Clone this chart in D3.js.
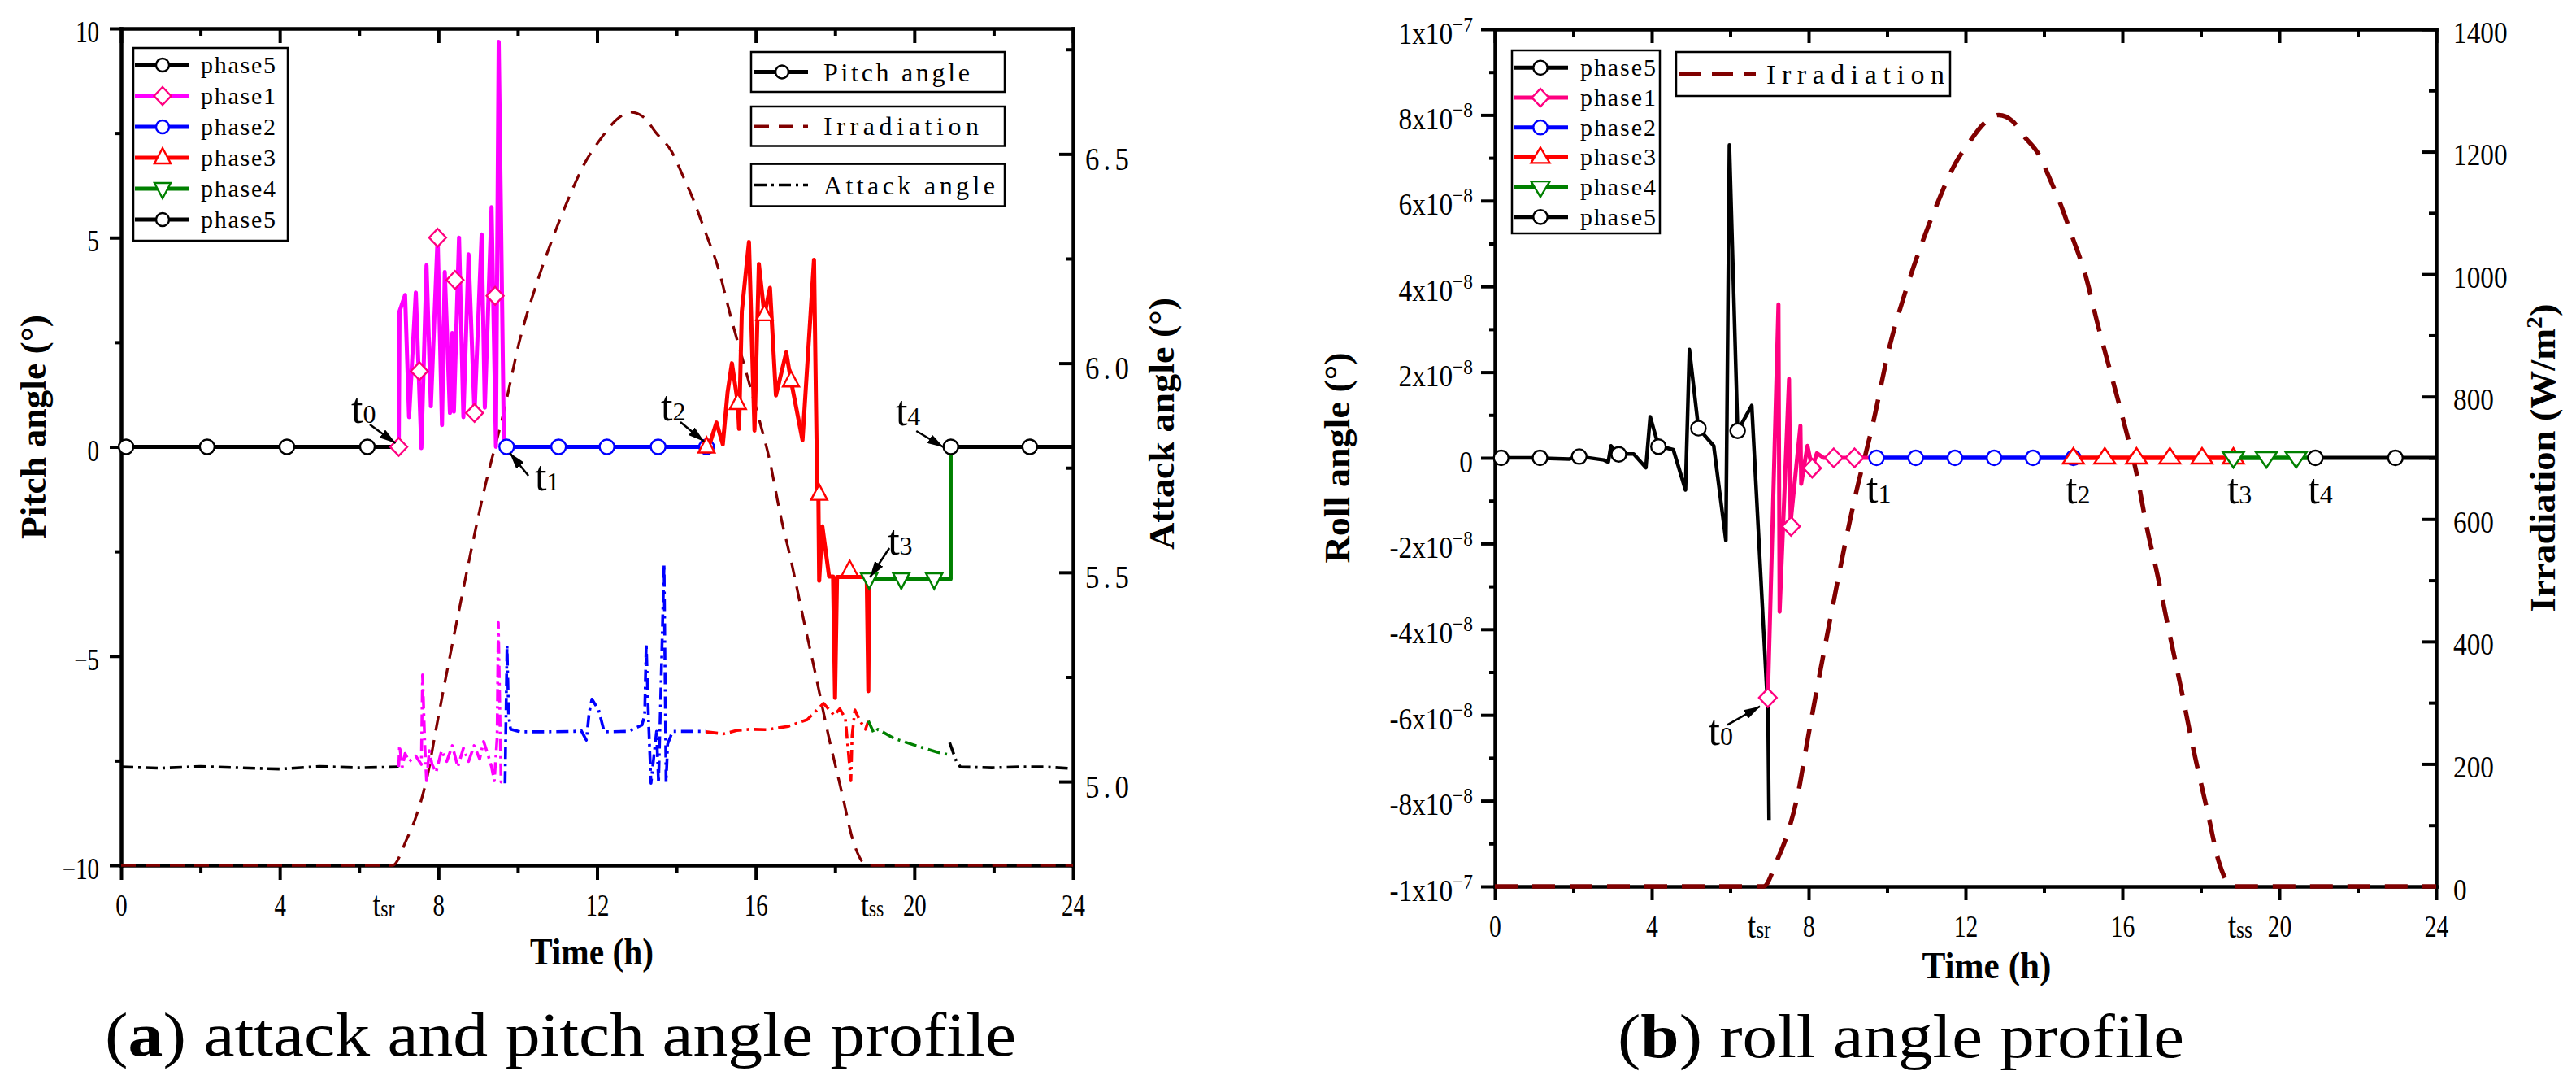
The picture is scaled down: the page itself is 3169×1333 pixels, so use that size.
<!DOCTYPE html>
<html><head><meta charset="utf-8">
<script src="https://cdn.jsdelivr.net/npm/d3@7"></script>
<style>html,body{margin:0;padding:0;background:#fff;}svg{display:block;}</style>
</head><body>
<svg id="chart" width="3169" height="1333"></svg>
<script>
// ===================== DATA =====================
const hourTicks = [0,4,8,12,16,20,24];
const hourMinorTicks = [2,6,10,14,18,22];
const pitchTicks = [-10,-5,0,5,10];
const pitchMinorTicks = [-7.5,-2.5,2.5,7.5];
const attackTicks = [5.0,5.5,6.0,6.5];
const attackMinorTicks = [5.25,5.75,6.25,6.75];
const rollTicks = [-10,-8,-6,-4,-2,0,2,4,6,8,10];      // units of 1e-8 deg
const rollMinorTicks = [-9,-7,-5,-3,-1,1,3,5,7,9];
const irrTicks = [0,200,400,600,800,1000,1200,1400];
const irrMinorTicks = [100,300,500,700,900,1100,1300];
const sunTimesA = [6.62, 18.94];   // t_sr, t_ss label positions (h), panel a
const sunTimesB = [6.74, 19.0];    // panel b
const sunSubs = ["sr","ss"];
const phaseLabels = ["phase5","phase1","phase2","phase3","phase4","phase5"];
const curveLabelsA = ["Pitch angle","Irradiation","Attack angle"];
const curveLabelB = "Irradiation";

// Solar irradiation (h, W/m^2)
const irradiation = [[0,0],[6.85,0],[7.19,42],[7.47,88],[7.74,155],[7.93,224],[8.5,420],[9.17,632],[9.65,759],[10.06,881],[10.47,972],[10.88,1049],[11.29,1117],[11.70,1176],[12.11,1217],[12.5,1248],[12.85,1260],[13.2,1250],[13.48,1226],[13.88,1194],[14.16,1154],[14.43,1113],[14.71,1063],[15.05,1000],[15.39,913],[15.73,832],[16.07,750],[16.35,678],[16.62,587],[16.89,510],[17.2,413],[17.5,322],[17.81,224],[18.18,119],[18.45,42],[18.82,0],[24,0]];

// Pitch angle (h, deg)
const pitch5a = [[0,0],[7.0,0]];
const pitch5aMarks = [[0.125,0],[2.17,0],[4.18,0],[6.21,0]];
const pitch1 = [[7.00,0],[7.02,3.24],[7.16,3.63],[7.26,0.71],[7.43,3.69],[7.57,-0.03],[7.70,4.34],[7.81,0.97],[7.98,5.0],[8.09,0.52],[8.16,4.18],[8.29,0.81],[8.35,2.72],[8.39,0.84],[8.52,5.0],[8.63,0.71],[8.76,4.6],[8.91,0.81],[9.09,5.08],[9.17,0.94],[9.34,5.73],[9.45,0],[9.52,9.68],[9.65,0.19],[9.72,0]];
const pitch1Marks = [[7.0,0],[7.52,1.81],[7.98,5.0],[8.42,3.99],[8.91,0.81],[9.43,3.61]];
const pitch2 = [[9.72,0],[14.76,0]];
const pitch2Marks = [[9.72,0],[11.03,0],[12.25,0],[13.54,0],[14.76,0]];
const pitch3 = [[14.76,0],[14.85,0.1],[15.01,0.58],[15.17,0.06],[15.29,1.3],[15.40,2.0],[15.55,1.04],[15.58,0.43],[15.65,3.24],[15.83,4.9],[15.97,0.39],[16.08,4.37],[16.22,3.16],[16.36,3.8],[16.51,1.23],[16.77,2.26],[16.89,1.58],[17.18,0.16],[17.47,4.47],[17.55,-0.97],[17.58,-1.13],[17.6,-3.2],[17.68,-1.9],[17.85,-3.1],[17.95,-3.1],[18.0,-6.0],[18.05,-3.11],[18.8,-3.11],[18.84,-5.84],[18.86,-3.16]];
const pitch3Marks = [[14.76,0],[15.55,1.04],[16.22,3.16],[16.89,1.58],[17.6,-1.13],[18.37,-2.95]];
const pitch4 = [[18.86,-3.16],[20.92,-3.16],[20.92,0]];
const pitch4Marks = [[18.86,-3.16],[19.67,-3.16],[20.5,-3.16]];
const pitch5b = [[20.92,0],[24,0]];
const pitch5bMarks = [[20.92,0],[22.91,0]];

// Attack angle (h, deg)
const attack5a = [[0,5.035],[1.0,5.032],[2.0,5.036],[3.0,5.033],[4.0,5.030],[5.0,5.036],[6.0,5.033],[7.0,5.035]];
const attack1 = [[7.0,5.035],[7.02,5.086],[7.09,5.035],[7.16,5.067],[7.26,5.048],[7.43,5.061],[7.57,5.041],[7.60,5.255],[7.66,5.080],[7.70,5.002],[7.77,5.074],[7.84,5.041],[7.94,5.022],[8.08,5.074],[8.21,5.048],[8.35,5.086],[8.49,5.035],[8.63,5.080],[8.76,5.048],[8.90,5.086],[9.04,5.054],[9.14,5.096],[9.24,5.067],[9.34,5.035],[9.41,5.002],[9.48,5.106],[9.51,5.38],[9.58,4.999],[9.68,5.0]];
const attack2 = [[9.68,4.996],[9.73,5.326],[9.77,5.158],[9.82,5.125],[10.06,5.119],[10.74,5.119],[11.43,5.120],[11.60,5.122],[11.73,5.099],[11.80,5.164],[11.87,5.197],[12.04,5.171],[12.18,5.119],[12.79,5.120],[13.13,5.135],[13.20,5.158],[13.24,5.33],[13.30,5.14],[13.36,4.996],[13.50,5.12],[13.55,4.996],[13.69,5.52],[13.74,4.998],[13.78,5.09],[13.85,5.107],[13.9,5.12],[14.74,5.12]];
const attack3 = [[14.74,5.119],[15.18,5.114],[15.52,5.122],[15.86,5.125],[16.28,5.124],[16.82,5.132],[17.30,5.148],[17.71,5.187],[17.98,5.158],[18.12,5.174],[18.26,5.151],[18.40,5.002],[18.43,5.109],[18.50,5.171],[18.63,5.145],[18.77,5.125],[18.84,5.145]];
const attack4 = [[18.84,5.145],[18.98,5.116],[19.08,5.125],[19.49,5.103],[20.04,5.086],[20.58,5.070],[20.89,5.064]];
const attack5b = [[20.89,5.093],[21.06,5.048],[21.16,5.035],[21.95,5.033],[22.63,5.035],[23.31,5.035],[24.0,5.031]];

// Roll angle (h, units of 1e-8 deg)
const roll5a = [[0,0],[0.92,0],[1.89,-0.03],[2.09,0.04],[2.78,-0.05],[2.89,-0.1],[2.96,0.28],[3.16,0.09],[3.54,0.09],[3.85,-0.23],[3.96,0.96],[4.17,0.28],[4.55,0.19],[4.86,-0.75],[4.96,2.53],[5.19,0.69],[5.58,0.28],[5.89,-1.93],[5.98,7.3],[6.19,0.63],[6.55,1.22],[6.93,-5.38],[6.96,-5.6],[6.99,-8.45]];
const roll5aMarks = [[0.16,0],[1.15,0],[2.15,0.03],[3.16,0.08],[4.17,0.26],[5.19,0.69],[6.19,0.63]];
const roll1 = [[6.96,-5.6],[7.23,3.58],[7.26,-3.59],[7.50,1.84],[7.54,-1.51],[7.79,0.75],[7.81,-0.61],[7.97,0.28],[8.09,-0.24],[8.21,0.11],[8.38,0],[9.73,0]];
const roll1Marks = [[6.96,-5.6],[7.55,-1.6],[8.09,-0.24],[8.64,0],[9.17,0]];
const roll2 = [[9.73,0],[14.75,0]];
const roll2Marks = [[9.73,0],[10.73,0],[11.73,0],[12.73,0],[13.72,0],[14.75,0]];
const roll3 = [[14.75,0],[18.83,0]];
const roll3Marks = [[14.75,0],[15.55,0],[16.36,0],[17.21,0],[18.03,0],[18.83,0]];
const roll4 = [[18.83,0],[20.92,0]];
const roll4Marks = [[18.83,0],[19.67,0],[20.43,0]];
const roll5b = [[20.92,0],[24,0]];
const roll5bMarks = [[20.92,0],[22.96,0]];

// Annotation labels t0..t4 : [label pos], [arrow from], [arrow to] in data units
const notesA = [
  {sub:"0", at:[5.80,0.573], from:[6.27,0.535], to:[6.92,0.087]},
  {sub:"1", at:[10.43,-1.04], from:[10.27,-0.69], to:[9.80,-0.146]},
  {sub:"2", at:[13.61,0.632], from:[14.10,0.593], to:[14.70,0.126]},
  {sub:"3", at:[19.33,-2.575], from:[19.37,-2.42], to:[18.88,-3.12]},
  {sub:"4", at:[19.53,0.515], from:[20.05,0.38], to:[20.74,-0.01]}
];
const notesB = [
  {sub:"0", at:[5.44,-6.70], from:[5.93,-6.23], to:[6.76,-5.80]},
  {sub:"1", at:[9.47,-1.05]},
  {sub:"2", at:[14.55,-1.07]},
  {sub:"3", at:[18.67,-1.07]},
  {sub:"4", at:[20.73,-1.07]}
];

// ===================== STYLE =====================
const SERIF = "'Liberation Serif','Times New Roman',serif";
const C = {black:"#000000", mag:"#FF00FF", pink:"#FF0080", blue:"#0000FF", red:"#FF0000", green:"#008000", irr:"#800000"};
const DASHDOT = "15,6,3,6";

const svg = d3.select("#chart");
const defs = svg.append("defs");
defs.append("marker").attr("id","arrow").attr("viewBox","0 0 20 12").attr("refX",20).attr("refY",6)
  .attr("markerWidth",20).attr("markerHeight",12).attr("markerUnits","userSpaceOnUse").attr("orient","auto")
  .append("path").attr("d","M0,0 L20,6 L0,12 Z").attr("fill","#000");

// ===================== HELPERS =====================
function txt(g, x, y, s, o={}) {
  let tr = `translate(${x},${y})`;
  if (o.rot) tr += ` rotate(${o.rot})`;
  if (o.sx) tr += ` scale(${o.sx},1)`;
  const t = g.append("text").attr("transform", tr)
    .attr("font-family", o.family || SERIF).attr("font-size", o.size || 37)
    .attr("font-weight", o.weight || "normal").attr("text-anchor", o.anchor || "start").attr("fill", "#000");
  if (o.len) t.attr("textLength", o.len).attr("lengthAdjust", o.adjust || "spacingAndGlyphs");
  if (s !== null) t.text(s);
  return t;
}
function marker(g, cx, cy, shape, color, sz) {
  if (shape === "circle") {
    g.append("circle").attr("cx",cx).attr("cy",cy).attr("r",sz.r).attr("fill","#fff").attr("stroke",color).attr("stroke-width",2.4);
    return;
  }
  let d;
  if (shape === "diamond") d = `M${cx},${cy-sz.d}L${cx+sz.d*0.95},${cy}L${cx},${cy+sz.d}L${cx-sz.d*0.95},${cy}Z`;
  else if (shape === "tri") d = `M${cx},${cy-12}L${cx+sz.t},${cy+7}L${cx-sz.t},${cy+7}Z`;
  else d = `M${cx},${cy+12}L${cx+sz.t},${cy-7}L${cx-sz.t},${cy-7}Z`;
  g.append("path").attr("d",d).attr("fill","#fff").attr("stroke",color).attr("stroke-width",2.4).attr("stroke-linejoin","miter");
}
function series(g, data, x, y, color, width, dash, curve) {
  const ln = d3.line().x(d=>x(d[0])).y(d=>y(d[1]));
  if (curve) ln.curve(curve);
  g.append("path").datum(data).attr("d", ln).attr("fill","none").attr("stroke",color)
    .attr("stroke-width",width).attr("stroke-dasharray",dash||null).attr("stroke-linejoin","round");
}
function marks(g, pts, x, y, shape, color, sz) { pts.forEach(p => marker(g, x(p[0]), y(p[1]), shape, color, sz)); }
function styleAxis(a, keepDomain) {
  a.attr("font-family",SERIF).attr("font-size",37);
  if (keepDomain) a.select(".domain").attr("stroke","#000").attr("stroke-width",4.5).attr("stroke-linecap","square");
  else a.select(".domain").remove();
  a.selectAll(".tick line").attr("stroke","#000").attr("stroke-width",4);
}
function axisPair(g, axisFn, scale, major, minor, bigSize, smallSize, pos, labels) {
  const ax = g.append("g").attr("transform", pos).call(axisFn(scale).tickValues(major).tickSizeInner(bigSize).tickSizeOuter(0).tickFormat(labels ? d => String(d) : () => ""));
  styleAxis(ax, true);
  const mx = g.append("g").attr("transform", pos).call(axisFn(scale).tickValues(minor).tickSizeInner(smallSize).tickSizeOuter(0).tickFormat(() => ""));
  styleAxis(mx, false);
  return ax;
}
function fixLabels(ax, dx, dy, sx, anchor) {
  ax.selectAll(".tick text").attr("x",null).attr("y",null).attr("dy",null)
    .attr("transform",`translate(${dx},${dy}) scale(${sx},1)`).attr("text-anchor",anchor).attr("fill","#000");
}
function tLabel(g, x, y, sub, bigSize, subSize, sx, anchor) {
  const t = txt(g, x, y, null, {size:bigSize, sx:sx, anchor:anchor||"start"});
  t.append("tspan").text("t");
  t.append("tspan").attr("font-size", subSize).text(sub);
}
function notes(g, list, x, y) {
  list.forEach(n => {
    if (n.from) g.append("line").attr("x1",x(n.from[0])).attr("y1",y(n.from[1])).attr("x2",x(n.to[0])).attr("y2",y(n.to[1]))
      .attr("stroke","#000").attr("stroke-width",2.5).attr("marker-end","url(#arrow)");
    tLabel(g, x(n.at[0]), y(n.at[1]), n.sub, 52, 32, 1, "start");
  });
}

// ===================== PANEL A =====================
const xA = d3.scaleLinear().domain([0,24]).range([149,1320]);
const yPitch = d3.scaleLinear().domain([-10,10]).range([1064,35]);
const yAttack = d3.scaleLinear().domain([4.8,6.8]).range([1064,35]);
const yIrrA = d3.scaleLinear().domain([0,1400]).range([1064,35]);
const gA = svg.append("g");

const axBA = axisPair(gA, d3.axisBottom, xA, hourTicks, hourMinorTicks, 18, 9, `translate(0,${yPitch.range()[0]})`, true);
fixLabels(axBA, 0, 62, 0.78, "middle");
axisPair(gA, d3.axisTop, xA, hourTicks, hourMinorTicks, -18, -9, `translate(0,${yPitch.range()[1]})`, false);
const axLA = axisPair(gA, d3.axisLeft, yPitch, pitchTicks, pitchMinorTicks, 14, 7, `translate(${xA.range()[0]},0)`, true);
axLA.selectAll(".tick text").text(d => d < 0 ? "\u2212" + Math.abs(d) : String(d));
fixLabels(axLA, -27, 16.5, 0.78, "end");
const axRA = axisPair(gA, d3.axisRight, yAttack, attackTicks, attackMinorTicks, -17, -9, `translate(${xA.range()[1]},0)`, true);
axRA.selectAll(".tick text").text(d => d3.format(".1f")(d)).attr("font-size",40).attr("letter-spacing",6);
fixLabels(axRA, 15, 19, 0.87, "start");
sunTimesA.forEach((h,i) => tLabel(gA, xA(h), yPitch.range()[0] + 63, sunSubs[i], 44, 30, 0.8, "middle"));

// data
series(gA, irradiation, xA, yIrrA, C.irr, 3.3, "18,12", d3.curveMonotoneX);
series(gA, attack5a, xA, yAttack, C.black, 3.6, DASHDOT);
series(gA, attack1, xA, yAttack, C.mag, 3.6, DASHDOT);
series(gA, attack2, xA, yAttack, C.blue, 3.6, DASHDOT);
series(gA, attack3, xA, yAttack, C.red, 3.6, DASHDOT);
series(gA, attack4, xA, yAttack, C.green, 3.6, DASHDOT);
series(gA, attack5b, xA, yAttack, C.black, 3.6, DASHDOT);
const mA = {r:9, d:11, t:10};
series(gA, pitch5a, xA, yPitch, C.black, 5); marks(gA, pitch5aMarks, xA, yPitch, "circle", C.black, mA);
series(gA, pitch1, xA, yPitch, C.mag, 5); marks(gA, pitch1Marks, xA, yPitch, "diamond", C.pink, mA);
series(gA, pitch2, xA, yPitch, C.blue, 5); marks(gA, pitch2Marks, xA, yPitch, "circle", C.blue, mA);
series(gA, pitch3, xA, yPitch, C.red, 5); marks(gA, pitch3Marks, xA, yPitch, "tri", C.red, mA);
series(gA, pitch4, xA, yPitch, C.green, 4.5); marks(gA, pitch4Marks, xA, yPitch, "triDown", C.green, mA);
series(gA, pitch5b, xA, yPitch, C.black, 5); marks(gA, pitch5bMarks, xA, yPitch, "circle", C.black, mA);
notes(gA, notesA, xA, yPitch);

// legends A
const legA = gA.append("g");
legA.append("rect").attr("x",164).attr("y",59).attr("width",190).attr("height",237).attr("fill","#fff").attr("stroke","#000").attr("stroke-width",2.5);
const phaseStyleA = [[C.black,"circle",C.black],[C.mag,"diamond",C.pink],[C.blue,"circle",C.blue],[C.red,"tri",C.red],[C.green,"triDown",C.green],[C.black,"circle",C.black]];
phaseLabels.forEach((lab,i) => {
  const yy = 80 + i*38;
  legA.append("line").attr("x1",166).attr("x2",232).attr("y1",yy).attr("y2",yy).attr("stroke",phaseStyleA[i][0]).attr("stroke-width",5);
  marker(legA, 200, yy, phaseStyleA[i][1], phaseStyleA[i][2], {r:8, d:11, t:10});
  txt(legA, 247, yy + 10, lab, {size:30, len:92, adjust:"spacing"});
});
const boxesA = [[64,113],[131,179.5],[201.6,253.5]];
const lenA = [180,191,211];
curveLabelsA.forEach((lab,i) => {
  const [y0,y1] = boxesA[i], yy = (y0+y1)/2;
  legA.append("rect").attr("x",924).attr("y",y0).attr("width",312).attr("height",y1-y0).attr("fill","#fff").attr("stroke","#000").attr("stroke-width",2.5);
  const ln = legA.append("line").attr("x1",928).attr("x2",994).attr("y1",yy).attr("y2",yy);
  if (i===0) { ln.attr("stroke",C.black).attr("stroke-width",5); marker(legA, 962, yy, "circle", C.black, {r:8}); }
  else if (i===1) ln.attr("stroke",C.irr).attr("stroke-width",3.3).attr("stroke-dasharray","18,12");
  else ln.attr("stroke",C.black).attr("stroke-width",3.6).attr("stroke-dasharray",DASHDOT);
  txt(legA, 1013, yy + 11, lab, {size:32, len:lenA[i], adjust:"spacing"});
});

// titles A
txt(gA, 56, 525, "Pitch angle (\u00B0)", {size:44, weight:"bold", rot:-90, anchor:"middle", len:276});
txt(gA, 1444, 521, "Attack angle (\u00B0)", {size:45, weight:"bold", rot:-90, anchor:"middle", len:310});
txt(gA, 728, 1186, "Time (h)", {size:46, weight:"bold", anchor:"middle", len:152});
{
  const t = txt(gA, 129, 1298, null, {size:76, len:1121});
  t.append("tspan").text("(");
  t.append("tspan").attr("font-weight","bold").text("a");
  t.append("tspan").text(") attack and pitch angle profile");
}

// ===================== PANEL B =====================
const xB = d3.scaleLinear().domain([0,24]).range([1839,2997]);
const yRoll = d3.scaleLinear().domain([-10,10]).range([1090,36]);
const yIrrB = d3.scaleLinear().domain([0,1400]).range([1090,36]);
const gB = svg.append("g");

const axBB = axisPair(gB, d3.axisBottom, xB, hourTicks, hourMinorTicks, 17, 8, `translate(0,${yRoll.range()[0]})`, true);
fixLabels(axBB, 0, 62, 0.8, "middle");
axisPair(gB, d3.axisTop, xB, hourTicks, hourMinorTicks, -17, -9, `translate(0,${yRoll.range()[1]})`, false);
const axLB = axisPair(gB, d3.axisLeft, yRoll, rollTicks, rollMinorTicks, 17, 7, `translate(${xB.range()[0]},0)`, true);
axLB.selectAll(".tick text").each(function(d) {
  const t = d3.select(this); t.text(null);
  if (d === 0) { t.append("tspan").text("0"); return; }
  const big = Math.abs(d) === 10;
  const m = big ? d/10 : d;
  t.append("tspan").text(`${m}x10`);
  t.append("tspan").attr("dy",-15).attr("font-size",26).text(big ? "\u22127" : "\u22128");
});
fixLabels(axLB, -27, 17, 0.9, "end");
const axRB = axisPair(gB, d3.axisRight, yIrrB, irrTicks, irrMinorTicks, -17, -9, `translate(${xB.range()[1]},0)`, true);
fixLabels(axRB, 21, 16, 0.9, "start");
sunTimesB.forEach((h,i) => tLabel(gB, xB(h), yRoll.range()[0] + 63, sunSubs[i], 44, 30, 0.85, "middle"));

series(gB, irradiation, xB, yIrrB, C.irr, 5.5, "28,18", d3.curveMonotoneX);
const mB = {r:9, d:11.5, t:13};
series(gB, roll5a, xB, yRoll, C.black, 4.5); marks(gB, roll5aMarks, xB, yRoll, "circle", C.black, mB);
series(gB, roll1, xB, yRoll, C.pink, 5); marks(gB, roll1Marks, xB, yRoll, "diamond", C.pink, mB);
series(gB, roll2, xB, yRoll, C.blue, 5.5); marks(gB, roll2Marks, xB, yRoll, "circle", C.blue, mB);
series(gB, roll3, xB, yRoll, C.red, 5.5); marks(gB, roll3Marks, xB, yRoll, "tri", C.red, mB);
series(gB, roll4, xB, yRoll, C.green, 5.5); marks(gB, roll4Marks, xB, yRoll, "triDown", C.green, mB);
series(gB, roll5b, xB, yRoll, C.black, 5); marks(gB, roll5bMarks, xB, yRoll, "circle", C.black, mB);
notes(gB, notesB, xB, yRoll);

// legends B
const legB = gB.append("g");
legB.append("rect").attr("x",1860).attr("y",62).attr("width",182).attr("height",225).attr("fill","#fff").attr("stroke","#000").attr("stroke-width",2.5);
const phaseStyleB = [[C.black,"circle",C.black],[C.pink,"diamond",C.pink],[C.blue,"circle",C.blue],[C.red,"tri",C.red],[C.green,"triDown",C.green],[C.black,"circle",C.black]];
phaseLabels.forEach((lab,i) => {
  const yy = 83.3 + i*36.7;
  legB.append("line").attr("x1",1862).attr("x2",1929).attr("y1",yy).attr("y2",yy).attr("stroke",phaseStyleB[i][0]).attr("stroke-width",5);
  marker(legB, 1895, yy, phaseStyleB[i][1], phaseStyleB[i][2], {r:8.7, d:11, t:11.5});
  txt(legB, 1944, yy + 10, lab, {size:30, len:93, adjust:"spacing"});
});
legB.append("rect").attr("x",2062).attr("y",64).attr("width",337).attr("height",54).attr("fill","#fff").attr("stroke","#000").attr("stroke-width",2.5);
legB.append("line").attr("x1",2066).attr("x2",2160).attr("y1",91).attr("y2",91).attr("stroke",C.irr).attr("stroke-width",5.5).attr("stroke-dasharray","26,14");
txt(legB, 2173, 103, curveLabelB, {size:34, len:219, adjust:"spacing"});

// titles B
txt(gB, 1660, 563, "Roll angle (\u00B0)", {size:44, weight:"bold", rot:-90, anchor:"middle", len:259});
{
  const t = txt(gB, 3143, 563, null, {size:44, weight:"bold", rot:-90, anchor:"middle", len:379});
  t.append("tspan").text("Irradiation (W/m");
  t.append("tspan").attr("dy",-16).attr("font-size",28).text("2");
  t.append("tspan").attr("dy",16).text(")");
}
txt(gB, 2444, 1203, "Time (h)", {size:46, weight:"bold", anchor:"middle", len:159});
{
  const t = txt(gB, 1990, 1300, null, {size:76, len:697});
  t.append("tspan").text("(");
  t.append("tspan").attr("font-weight","bold").text("b");
  t.append("tspan").text(") roll angle profile");
}
</script>
</body></html>
